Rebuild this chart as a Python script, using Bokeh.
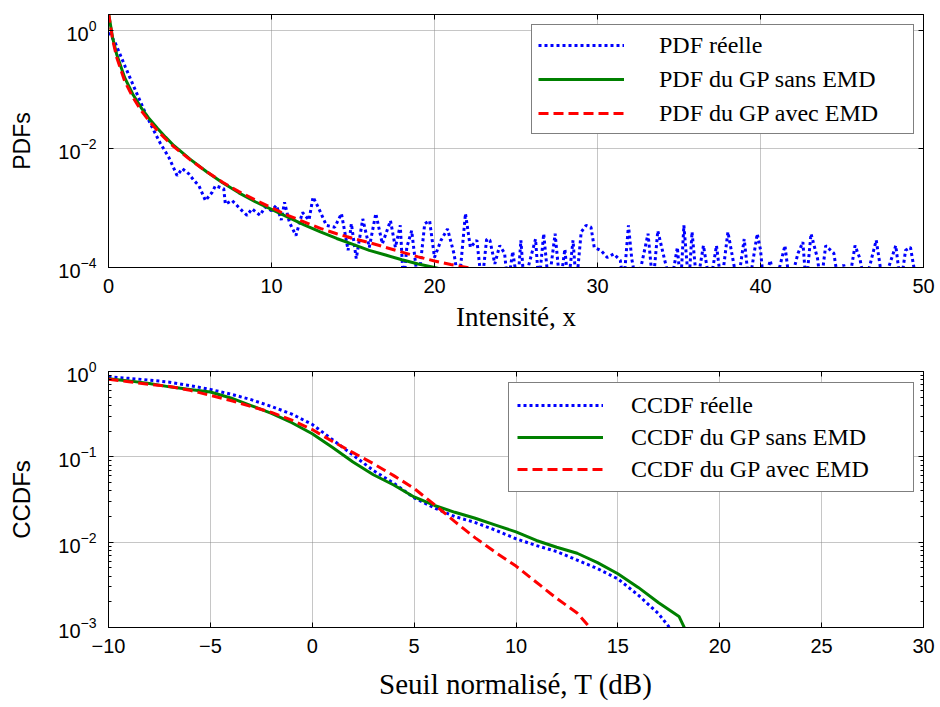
import numpy as np
from bokeh.plotting import figure
from bokeh.layouts import column
from bokeh.models import (FixedTicker, LinearAxis, LogAxis, Range1d, Legend,
                          LegendItem, CustomJSTickFormatter)
from bokeh.embed import file_html
from bokeh.resources import INLINE

# ---------------- data: top panel (PDFs), values as log10 ----------------
pdf_real_x = [
    0.05, 0.43, 1.04, 1.65, 2.37, 2.78, 3.19, 3.70, 4.21, 4.52,
    4.93, 5.24, 5.55, 5.95, 6.36, 6.56, 7.07, 7.17, 7.58, 8.19,
    8.50, 8.80, 9.30, 9.60, 10.0, 10.3, 10.6, 10.8, 11.1, 11.5,
    11.9, 12.3, 12.55, 12.86, 13.37, 13.88, 14.29, 14.7, 14.9, 15.2,
    15.6, 16.0, 16.4, 16.8, 17.3, 17.6, 17.9, 18.1, 18.3, 18.6,
    19.0, 19.4, 19.7, 20.0, 20.4, 20.8, 21.2, 21.5, 21.9, 22.2,
    22.6, 22.9, 23.2, 23.4, 23.7, 24.0, 24.3, 24.5, 24.8, 25.1,
    25.3, 25.5, 25.8, 26.2, 26.4, 26.7, 27.0, 27.4, 27.7, 28.0,
    28.2, 28.5, 28.7, 29.0, 29.3, 29.6, 29.8, 30.2, 30.6, 31.0,
    31.4, 31.6, 31.9, 32.1, 32.4, 32.7, 33.1, 33.4, 33.7, 34.1,
    34.5, 34.9, 35.1, 35.3, 35.6, 35.8, 36.1, 36.5, 36.9, 37.3,
    37.6, 38.0, 38.3, 38.6, 39.0, 39.3, 39.8, 40.0, 40.2, 40.6,
    40.9, 41.5, 41.8, 42.3, 42.6, 42.8, 43.1, 43.5, 43.7, 44.0,
    44.5, 44.8, 45.1, 45.4, 45.8, 46.1, 46.4, 47.1, 47.3, 47.5,
    48.3, 48.6, 48.9, 49.2, 49.6, 50.0,
]
pdf_real_log10 = [
    -0.03, -0.22, -0.62, -1.01, -1.46, -1.69, -1.91, -2.14, -2.45, -2.33,
    -2.42, -2.53, -2.62, -2.87, -2.73, -2.62, -2.67, -2.93, -2.87, -3.04,
    -3.12, -3.01, -3.12, -2.98, -3.04, -2.95, -3.20, -2.90, -3.24, -3.46,
    -3.07, -3.20, -2.81, -2.98, -3.29, -3.32, -3.09, -3.71, -3.26, -3.85,
    -3.18, -3.66, -3.09, -3.60, -3.21, -3.66, -3.29, -4.30, -3.66, -3.38,
    -4.30, -3.26, -3.21, -3.83, -3.54, -3.35, -3.77, -4.30, -3.09, -3.66,
    -3.54, -4.30, -3.52, -3.54, -3.94, -3.63, -3.76, -4.30, -3.73, -4.30,
    -3.54, -4.30, -3.94, -3.52, -4.30, -3.43, -4.30, -3.43, -4.30, -3.69,
    -4.30, -3.54, -4.30, -3.40, -3.29, -3.32, -3.66, -3.71, -3.83, -3.77,
    -3.88, -4.30, -3.29, -3.85, -4.30, -3.95, -3.43, -4.30, -3.38, -3.85,
    -4.30, -3.66, -4.30, -3.29, -4.30, -3.40, -4.30, -3.63, -4.30, -3.63,
    -4.30, -3.40, -3.85, -4.30, -3.52, -4.30, -3.43, -3.70, -4.30, -3.88,
    -4.30, -3.63, -4.30, -3.76, -3.57, -4.30, -3.43, -3.85, -4.30, -3.63,
    -3.76, -4.30, -3.95, -4.30, -3.63, -3.85, -4.30, -3.54, -3.90, -4.30,
    -3.63, -4.30, -3.71, -3.66, -4.30, -4.30,
]
pdf_sans_x = [0, 0.25, 0.5, 1, 1.5, 2, 2.5, 3, 3.5, 4, 5, 6, 7, 8, 9, 10,
              11, 12, 13, 14, 15, 16, 17, 18, 19, 20, 20.6]
pdf_sans_log10 = [0.30, -0.12, -0.40, -0.80, -1.08, -1.30, -1.49, -1.65, -1.80,
                  -1.94, -2.17, -2.38, -2.57, -2.74, -2.89, -3.02, -3.15, -3.28,
                  -3.40, -3.51, -3.61, -3.71, -3.79, -3.87, -3.94, -4.00, -4.04]
pdf_avec_x = [0, 0.25, 0.5, 1, 1.5, 2, 2.5, 3, 3.5, 4, 5, 6, 7, 8, 9, 10,
              11, 12, 13, 14, 15, 16, 17, 18, 19, 20, 21, 22, 22.7]
pdf_avec_log10 = [0.30, -0.15, -0.45, -0.86, -1.13, -1.35, -1.53, -1.69, -1.83,
                  -1.96, -2.18, -2.38, -2.56, -2.72, -2.86, -2.99, -3.12, -3.23,
                  -3.34, -3.43, -3.51, -3.58, -3.66, -3.74, -3.82, -3.89, -3.95,
                  -4.00, -4.05]

# ---------------- data: bottom panel (CCDFs), values as log10 ----------------
ccdf_real_T = [-10, -9, -8, -7, -6, -5, -4, -3, -2, -1, 0, 1, 2, 3, 4, 5, 6, 7,
               8, 9, 10, 11, 12, 13, 14, 15, 16, 17, 17.6]
ccdf_real_log10 = [-0.06, -0.08, -0.10, -0.125, -0.165, -0.21, -0.265, -0.33,
                   -0.41, -0.50, -0.62, -0.80, -0.98, -1.16, -1.31, -1.48, -1.60,
                   -1.70, -1.77, -1.86, -1.96, -2.04, -2.11, -2.21, -2.31, -2.43,
                   -2.62, -2.84, -3.02]
ccdf_sans_T = [-10, -9, -8, -7, -6, -5, -4, -3, -2, -1, 0, 1, 2, 3, 4, 5, 6, 7,
               8, 9, 10, 11, 12, 13, 14, 15, 16, 17, 18, 18.3]
ccdf_sans_log10 = [-0.085, -0.11, -0.14, -0.18, -0.21, -0.24, -0.31, -0.40,
                   -0.49, -0.60, -0.73, -0.89, -1.06, -1.21, -1.33, -1.47, -1.57,
                   -1.65, -1.72, -1.80, -1.88, -1.98, -2.06, -2.13, -2.24, -2.37,
                   -2.53, -2.71, -2.87, -3.02]
ccdf_avec_T = [-10, -9, -8, -7, -6, -5, -4, -3, -2, -1, 0, 1, 2, 3, 4, 5, 6, 7,
               8, 9, 10, 11, 12, 13, 13.7]
ccdf_avec_log10 = [-0.09, -0.12, -0.15, -0.175, -0.22, -0.28, -0.34, -0.41,
                   -0.48, -0.57, -0.68, -0.82, -0.95, -1.08, -1.22, -1.37, -1.56,
                   -1.76, -1.95, -2.12, -2.28, -2.47, -2.66, -2.83, -3.02]

pdf_xticks = [0, 10, 20, 30, 40, 50]
pdf_yticks = [1e-4, 1e-2, 1e0]
ccdf_xticks = [-10, -5, 0, 5, 10, 15, 20, 25, 30]
ccdf_yticks = [1e-3, 1e-2, 1e-1, 1e0]
ccdf_yminor = [k * 10.0 ** e for e in (-3, -2, -1) for k in range(2, 10)]

legend_top = ["PDF réelle", "PDF du GP sans EMD", "PDF du GP avec EMD"]
legend_bot = ["CCDF réelle", "CCDF du GP sans EMD", "CCDF du GP avec EMD"]

BLUE, GREEN, RED = "#0000FF", "#008000", "#FF0000"
SANS = "Liberation Sans"
SERIF = "Liberation Serif"


def style_axis(ax, show_labels=True, standoff=10):
    ax.major_tick_in = 5
    ax.major_tick_out = 0
    ax.minor_tick_in = 3
    ax.minor_tick_out = 0
    ax.axis_line_color = "black"
    ax.axis_line_width = 1
    ax.major_tick_line_color = "black"
    ax.minor_tick_line_color = "black"
    ax.major_label_text_font = SANS
    ax.major_label_text_font_size = "20px"
    ax.major_label_text_color = "black"
    ax.major_label_standoff = standoff
    ax.axis_label_text_color = "black"
    ax.axis_label_text_font_style = "normal"
    if not show_labels:
        ax.formatter = CustomJSTickFormatter(code="return ''")


def make_fig(frame_h, top, bottom, xr, yr):
    p = figure(frame_width=815, frame_height=frame_h, y_axis_type="log",
               x_range=xr, y_range=yr, output_backend="svg",
               toolbar_location=None, min_border_left=108,
               min_border_right=17, min_border_top=top,
               min_border_bottom=bottom)
    p.background_fill_color = "white"
    p.border_fill_color = "white"
    p.outline_line_color = "black"
    for g in (p.xgrid[0], p.ygrid[0]):
        g.grid_line_color = "#8c8c8c"
        g.grid_line_dash = "1 1"
        g.grid_line_width = 1
    return p


def add_legend(p, renderers, labels, loc, padding, spacing, standoff, lw):
    items = [LegendItem(label=l, renderers=[r]) for l, r in zip(labels, renderers)]
    leg = Legend(items=items, location=loc)
    leg.label_text_font = SERIF
    leg.label_text_font_size = "24px"
    leg.label_text_color = "black"
    leg.glyph_width = 86
    leg.glyph_height = 28
    leg.label_height = 28
    leg.label_width = lw
    leg.label_standoff = standoff
    leg.padding = padding
    leg.spacing = spacing
    leg.margin = 0
    leg.border_line_color = "black"
    leg.border_line_width = 1
    leg.background_fill_color = "white"
    leg.background_fill_alpha = 1
    p.add_layout(leg, "center")


def dress(p, xticks, ticker_y_kwargs, xlabel, xlabel_size, xstand, ylabel,
          ylabel_size, minor_y):
    bx = p.below[0]
    ly = p.left[0]
    bx.ticker = FixedTicker(ticks=xticks)
    ly.ticker = FixedTicker(**ticker_y_kwargs)
    style_axis(bx, standoff=11)
    style_axis(ly, standoff=12)
    bx.axis_label = xlabel
    bx.axis_label_text_font = SERIF
    bx.axis_label_text_font_size = xlabel_size
    bx.axis_label_standoff = xstand
    ly.axis_label = ylabel
    ly.axis_label_text_font = SANS
    ly.axis_label_text_font_size = ylabel_size
    ly.axis_label_standoff = 20
    ta = LinearAxis(ticker=FixedTicker(ticks=xticks))
    ra = LogAxis(ticker=FixedTicker(**ticker_y_kwargs))
    style_axis(ta, False)
    style_axis(ra, False)
    if not minor_y:
        ly.minor_tick_line_color = None
        ra.minor_tick_line_color = None
    ta.minor_tick_line_color = None
    bx.minor_tick_line_color = None
    p.add_layout(ta, "above")
    p.add_layout(ra, "right")


# ---------------- top figure ----------------
p1 = make_fig(253, 14, 73, Range1d(0, 50), Range1d(1e-4, 10 ** 0.27))
r_a = p1.line(pdf_real_x, 10 ** np.array(pdf_real_log10), line_color=BLUE,
              line_width=3, line_dash="3 3")
r_b = p1.line(pdf_sans_x, 10 ** np.array(pdf_sans_log10), line_color=GREEN,
              line_width=3)
r_c = p1.line(pdf_avec_x, 10 ** np.array(pdf_avec_log10), line_color=RED,
              line_width=3, line_dash="10 5")
dress(p1, pdf_xticks, dict(ticks=pdf_yticks), "Intensité, x", "27px", 6,
      "PDFs", "23px", False)
add_legend(p1, [r_a, r_b, r_c], legend_top, (423, 133), 6, 6, 35, 248)

# ---------------- bottom figure ----------------
p2 = make_fig(256, 31, 80, Range1d(-10, 30), Range1d(1e-3, 1))
s_a = p2.line(ccdf_real_T, 10 ** np.array(ccdf_real_log10), line_color=BLUE,
              line_width=3, line_dash="3 3")
s_b = p2.line(ccdf_sans_T, 10 ** np.array(ccdf_sans_log10), line_color=GREEN,
              line_width=3)
s_c = p2.line(ccdf_avec_T, 10 ** np.array(ccdf_avec_log10), line_color=RED,
              line_width=3, line_dash="10 5")
dress(p2, ccdf_xticks, dict(ticks=ccdf_yticks, minor_ticks=ccdf_yminor),
      "Seuil normalisé, T (dB)", "29px", 12, "CCDFs", "24px", True)
add_legend(p2, [s_a, s_b, s_c], legend_bot, (400, 135), 8, 4, 28, 274)

layout = column(p1, p2, spacing=0)
open("out.html", "w").write(file_html(layout, INLINE))
